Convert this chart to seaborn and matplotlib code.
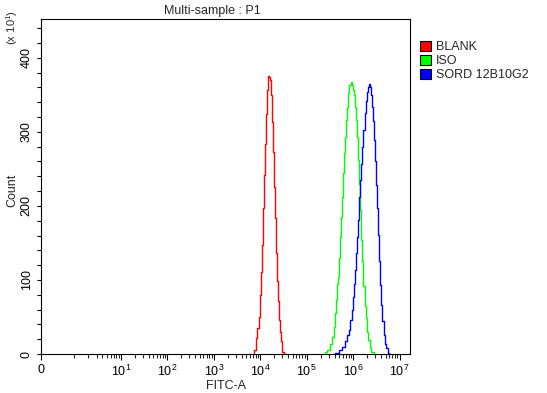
import numpy as np
import pandas as pd
import matplotlib
matplotlib.use("Agg")
import matplotlib.pyplot as plt
import seaborn as sns
from matplotlib.patches import Patch
from matplotlib.ticker import FixedLocator, NullFormatter, MultipleLocator

# ---- data (log10 of FITC-A, count in units of x10^1) ----
blank_log = [3.860, 3.888, 3.925, 3.953, 3.974, 3.996, 4.017, 4.039, 4.060, 4.082,
             4.103, 4.125, 4.146, 4.168, 4.189, 4.211, 4.232, 4.254, 4.275, 4.297,
             4.318, 4.340, 4.361, 4.383, 4.404, 4.426, 4.447, 4.469, 4.555]
blank_cnt = [0, 5, 22, 35, 50, 80, 111, 147, 197, 242,
             283, 324, 356, 376, 374, 370, 350, 313, 273, 226,
             184, 136, 98, 71, 46, 30, 17, 3, 0]

iso_log = [5.366, 5.415, 5.473, 5.523, 5.566, 5.596, 5.617, 5.639, 5.660, 5.682,
           5.703, 5.725, 5.746, 5.768, 5.789, 5.811, 5.832, 5.854, 5.875, 5.897,
           5.931, 5.961, 5.983, 6.011, 6.039, 6.060, 6.082, 6.103, 6.125, 6.146,
           6.168, 6.189, 6.211, 6.232, 6.258, 6.282, 6.316, 6.338, 6.368, 6.413, 6.484]
iso_cnt = [0, 3, 6, 14, 23, 37, 55, 73, 95, 104,
           129, 158, 185, 212, 244, 271, 293, 316, 334, 352,
           363, 367, 363, 357, 350, 334, 316, 293, 262, 230,
           194, 154, 125, 92, 65, 48, 30, 19, 10, 3, 0]

sord_log = [5.559, 5.667, 5.725, 5.796, 5.854, 5.897, 5.925, 5.953, 5.983, 6.011,
            6.039, 6.060, 6.082, 6.103, 6.125, 6.146, 6.168, 6.189, 6.211, 6.232,
            6.262, 6.284, 6.312, 6.333, 6.355, 6.376, 6.398, 6.419, 6.441, 6.462,
            6.484, 6.505, 6.527, 6.548, 6.570, 6.591, 6.613, 6.641, 6.671, 6.699,
            6.727, 6.757, 6.785]
sord_cnt = [0, 1, 6, 9, 17, 26, 32, 46, 59, 77,
            95, 113, 136, 158, 181, 212, 235, 257, 280, 302,
            325, 341, 354, 361, 364, 361, 350, 334, 314, 289,
            260, 228, 197, 161, 125, 93, 66, 44, 26, 14,
            8, 2, 0]

samples = ["BLANK", "ISO", "SORD 12B10G2"]
colors = ["#ff0000", "#00ff00", "#0000ff"]

x_major = [0, 1e1, 1e2, 1e3, 1e4, 1e5, 1e6, 1e7]
x_major_labels = ["0", "10^{1}", "10^{2}", "10^{3}", "10^{4}", "10^{5}", "10^{6}", "10^{7}"]
x_max = 2 ** 24
y_max = 452

frames = []
for name, lg, ct in zip(samples, [blank_log, iso_log, sord_log], [blank_cnt, iso_cnt, sord_cnt]):
    frames.append(pd.DataFrame({"fitc": 10 ** np.array(lg), "count": ct, "sample": name}))
df = pd.concat(frames, ignore_index=True)

# ---- style ----
sns.set_style("ticks")
plt.rcParams["font.family"] = ["Liberation Sans", "DejaVu Sans"]
plt.rcParams["mathtext.fontset"] = "custom"
plt.rcParams["mathtext.rm"] = "Liberation Sans"
plt.rcParams["mathtext.default"] = "regular"

fig = plt.figure(figsize=(5.47, 3.93), dpi=100)
ax = fig.add_axes([41 / 547, 39 / 393, 369 / 547, 334.7 / 393])

sns.lineplot(data=df, x="fitc", y="count", hue="sample", palette=colors,
             hue_order=samples, drawstyle="steps-mid", estimator=None,
             linewidth=1.0, legend=False, ax=ax)

ax.set_xscale("symlog", linthresh=1, linscale=0.648, base=10)
ax.set_xlim(0, x_max)
ax.set_ylim(0, y_max)

ax.xaxis.set_major_locator(FixedLocator(x_major))
ax.set_xticklabels([r"$\mathregular{%s}$" % s for s in x_major_labels])
minor = [m * 10 ** k for k in range(0, 7) for m in range(1, 10) if not (m == 1 and k > 0)]
ax.xaxis.set_minor_locator(FixedLocator(minor))
ax.xaxis.set_minor_formatter(NullFormatter())

ax.yaxis.set_major_locator(MultipleLocator(100))
ax.yaxis.set_minor_locator(MultipleLocator(20))

ax.tick_params(axis="x", which="major", direction="out", length=4.3, width=0.8,
               labelsize=9, pad=2.5, colors="black")
ax.tick_params(axis="x", which="minor", direction="out", length=2.9, width=0.8)
ax.tick_params(axis="y", which="both", direction="out", length=2.9, width=0.8,
               labelsize=9, pad=3.0, colors="black")
for lab in ax.get_yticklabels():
    lab.set_rotation(90)
    lab.set_va("center")

for sp in ax.spines.values():
    sp.set_visible(True)
    sp.set_color("black")
    sp.set_linewidth(0.8)

ax.set_xlabel("FITC-A", fontsize=9, labelpad=1)
ax.set_ylabel("")
fig.text(12 / 547, 1 - 190 / 393, "Count", rotation=90, fontsize=9, ha="center", va="center")
fig.text(12 / 547, 1 - 27 / 393, r"$\mathregular{(x\ 10^{1})}$", rotation=90, fontsize=8,
         ha="center", va="center")
fig.text(212 / 547, 1 - 11 / 393, "Multi-sample : P1", fontsize=9, ha="center", va="center")

handles = [Patch(facecolor=c, edgecolor="black", linewidth=0.8) for c in colors]
fig.legend(handles, samples, loc="upper left", bbox_to_anchor=(420 / 547, 1 - 41 / 393),
           frameon=False, fontsize=9, handlelength=0.85, handleheight=0.85,
           handletextpad=0.45, labelspacing=0.12, borderpad=0, borderaxespad=0)

fig.savefig("out.png", dpi=100)
